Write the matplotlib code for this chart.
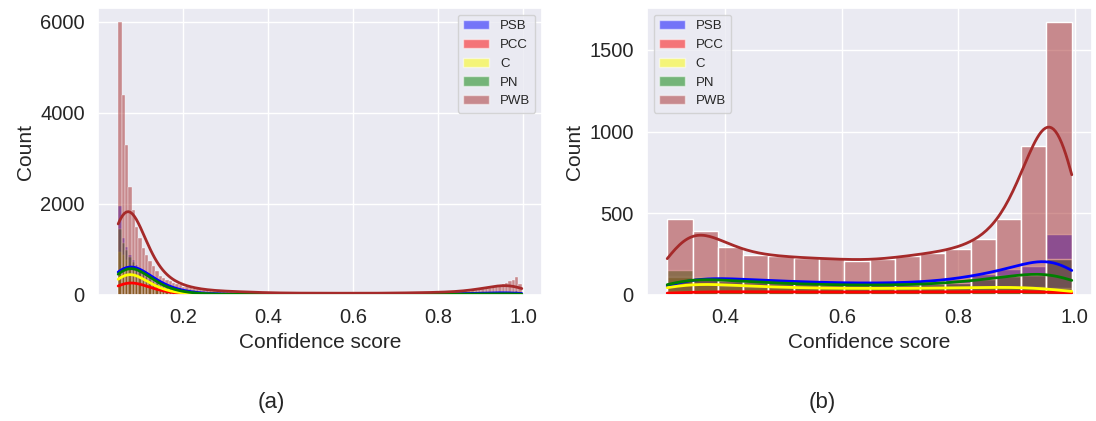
import numpy as np
import pandas as pd
import seaborn as sns
import matplotlib
matplotlib.use("Agg")
from matplotlib import pyplot as plt
from matplotlib.patches import Patch
from matplotlib.ticker import MultipleLocator

labels = ["PSB", "PCC", "C", "PN", "PWB"]
colors = ["blue", "red", "yellow", "green", "brown"]

# (a) all confidence scores: counts in 120 bins over range_a
range_a = (0.048, 0.997)
psb_a = [1950, 1250, 1050, 880, 760, 660, 580, 500, 430, 370,
         315, 270, 230, 195, 165, 140, 118, 100, 85, 72,
         62, 54, 47, 41, 36, 32, 29, 26, 24, 22,
         20, 20, 19, 19, 18, 18, 18, 17, 17, 17,
         16, 16, 16, 15, 15, 15, 15, 14, 14, 14,
         14, 14, 14, 14, 13, 13, 13, 13, 13, 13,
         13, 13, 13, 13, 13, 13, 13, 13, 13, 13,
         13, 13, 13, 14, 14, 14, 14, 15, 15, 15,
         15, 16, 16, 16, 17, 17, 18, 18, 19, 19,
         20, 20, 21, 22, 22, 23, 24, 25, 26, 27,
         28, 29, 30, 31, 32, 33, 34, 35, 36, 38,
         40, 45, 50, 55, 60, 65, 70, 75, 80, 70]
pcc_a = [525, 490, 430, 375, 325, 280, 245, 210, 176, 148,
         122, 101, 83, 68, 56, 46, 38, 32, 26, 22,
         18, 15, 13, 11, 10, 9, 8, 7, 7, 6,
         6, 6, 5, 5, 5, 5, 5, 4, 4, 4,
         4, 4, 4, 4, 4, 4, 4, 4, 4, 4,
         4, 4, 4, 4, 4, 4, 4, 4, 4, 4,
         4, 4, 4, 4, 4, 4, 4, 4, 4, 4,
         4, 4, 4, 4, 4, 4, 4, 4, 4, 4,
         4, 4, 4, 4, 4, 4, 4, 4, 4, 4,
         4, 4, 4, 4, 4, 4, 4, 4, 4, 4,
         4, 4, 4, 4, 4, 4, 4, 4, 5, 5,
         5, 5, 5, 5, 5, 5, 5, 5, 5, 4]
c_a = [950, 880, 765, 630, 530, 450, 378, 315, 261, 216,
       178, 147, 121, 99, 81, 67, 55, 45, 38, 32,
       27, 23, 20, 17, 15, 14, 13, 12, 11, 11,
       10, 10, 10, 9, 9, 9, 9, 9, 8, 8,
       8, 8, 8, 8, 8, 8, 8, 8, 8, 8,
       8, 8, 8, 8, 8, 8, 8, 8, 8, 8,
       8, 8, 8, 8, 8, 8, 8, 8, 8, 8,
       8, 8, 8, 8, 8, 8, 8, 8, 8, 8,
       8, 8, 8, 8, 8, 8, 8, 8, 8, 8,
       8, 8, 8, 8, 8, 8, 8, 8, 8, 8,
       8, 8, 8, 8, 9, 9, 9, 9, 9, 9,
       10, 10, 10, 10, 10, 11, 11, 12, 12, 10]
pn_a = [1450, 1150, 980, 830, 720, 620, 540, 460, 390, 330,
        278, 234, 196, 164, 137, 114, 95, 79, 66, 55,
        46, 40, 35, 31, 27, 24, 22, 20, 19, 18,
        16, 16, 15, 15, 15, 14, 14, 14, 13, 13,
        13, 13, 12, 12, 12, 12, 12, 11, 11, 11,
        11, 11, 11, 11, 11, 11, 11, 11, 11, 11,
        11, 11, 11, 11, 11, 11, 11, 11, 11, 11,
        11, 11, 11, 11, 11, 11, 12, 12, 12, 12,
        12, 12, 13, 13, 13, 13, 14, 14, 14, 15,
        15, 15, 16, 16, 17, 17, 18, 18, 19, 19,
        20, 20, 21, 21, 22, 22, 23, 23, 24, 24,
        25, 26, 27, 28, 30, 32, 34, 38, 42, 36]
pwb_a = [6000, 4380, 3290, 2370, 1860, 1500, 1250, 1030, 875, 750,
         635, 525, 420, 380, 340, 300, 270, 240, 210, 185,
         170, 155, 142, 130, 120, 112, 105, 99, 94, 90,
         87, 85, 83, 80, 76, 72, 70, 68, 65, 62,
         58, 55, 53, 51, 49, 47, 46, 45, 44, 43,
         42, 42, 41, 41, 41, 40, 40, 40, 40, 40,
         40, 40, 40, 40, 40, 40, 39, 39, 39, 39,
         38, 38, 38, 38, 38, 39, 39, 40, 40, 41,
         41, 42, 43, 44, 45, 46, 47, 48, 49, 50,
         51, 52, 53, 55, 57, 59, 61, 63, 65, 68,
         72, 76, 80, 85, 90, 100, 115, 135, 155, 175,
         150, 170, 190, 215, 240, 265, 300, 330, 395, 250]

# (b) scores >= 0.3: counts in 16 bins over range_b
range_b = (0.3, 0.995)
psb_b = [115, 110, 100, 92, 85, 80, 75, 72, 72, 75, 82, 95, 128, 160, 180, 373]
pcc_b = [25, 22, 20, 20, 19, 18, 18, 18, 18, 18, 19, 20, 21, 22, 24, 26]
c_b = [110, 65, 58, 52, 47, 43, 41, 40, 40, 40, 42, 44, 46, 50, 50, 40]
pn_b = [150, 95, 85, 78, 72, 66, 62, 60, 60, 62, 66, 75, 95, 115, 120, 220]
pwb_b = [465, 393, 296, 245, 239, 224, 224, 210, 218, 239, 259, 281, 341, 465, 912, 1673]


def to_frame(counts, lo, hi):
    # rebuild individual scores from the binned counts
    edges = np.linspace(lo, hi, len(counts[0]) + 1)
    centers = (edges[:-1] + edges[1:]) / 2
    parts = []
    for lab, c in zip(labels, counts):
        parts.append(pd.DataFrame({"score": np.repeat(centers, c), "cls": lab}))
    return pd.concat(parts, ignore_index=True)


sns.set_theme(style="darkgrid")
plt.rcParams["font.family"] = ["Liberation Sans", "DejaVu Sans"]

fig = plt.figure(figsize=(10.96, 4.21), dpi=100)
ax1 = fig.add_axes([98 / 1096, 126 / 421, 444 / 1096, 287 / 421])
ax2 = fig.add_axes([647 / 1096, 126 / 421, 445 / 1096, 287 / 421])

panels = [(ax1, [psb_a, pcc_a, c_a, pn_a, pwb_a], range_a, "upper right"),
          (ax2, [psb_b, pcc_b, c_b, pn_b, pwb_b], range_b, "upper left")]

for ax, counts, rng, loc in panels:
    df = to_frame(counts, *rng)
    # reversed hue order so PSB is drawn first and PWB ends on top
    sns.histplot(data=df, x="score", hue="cls", hue_order=labels[::-1],
                 palette=colors[::-1], bins=len(counts[0]), binrange=rng,
                 kde=True, alpha=0.5, kde_kws=dict(cut=3, clip=rng),
                 line_kws=dict(lw=2), legend=False, ax=ax)
    handles = [Patch(facecolor=c, edgecolor="white", alpha=0.5) for c in colors]
    ax.legend(handles, labels, loc=loc, fontsize=9.5)
    ax.set_xlabel("Confidence score", fontsize=15)
    ax.set_ylabel("Count", fontsize=15)
    ax.tick_params(labelsize=14.5)

ax1.yaxis.set_major_locator(MultipleLocator(2000))

fig.text(0.248, 0.045, "(a)", fontsize=16, ha="center", va="center")
fig.text(0.750, 0.045, "(b)", fontsize=16, ha="center", va="center")

fig.savefig("out.png", dpi=100)
